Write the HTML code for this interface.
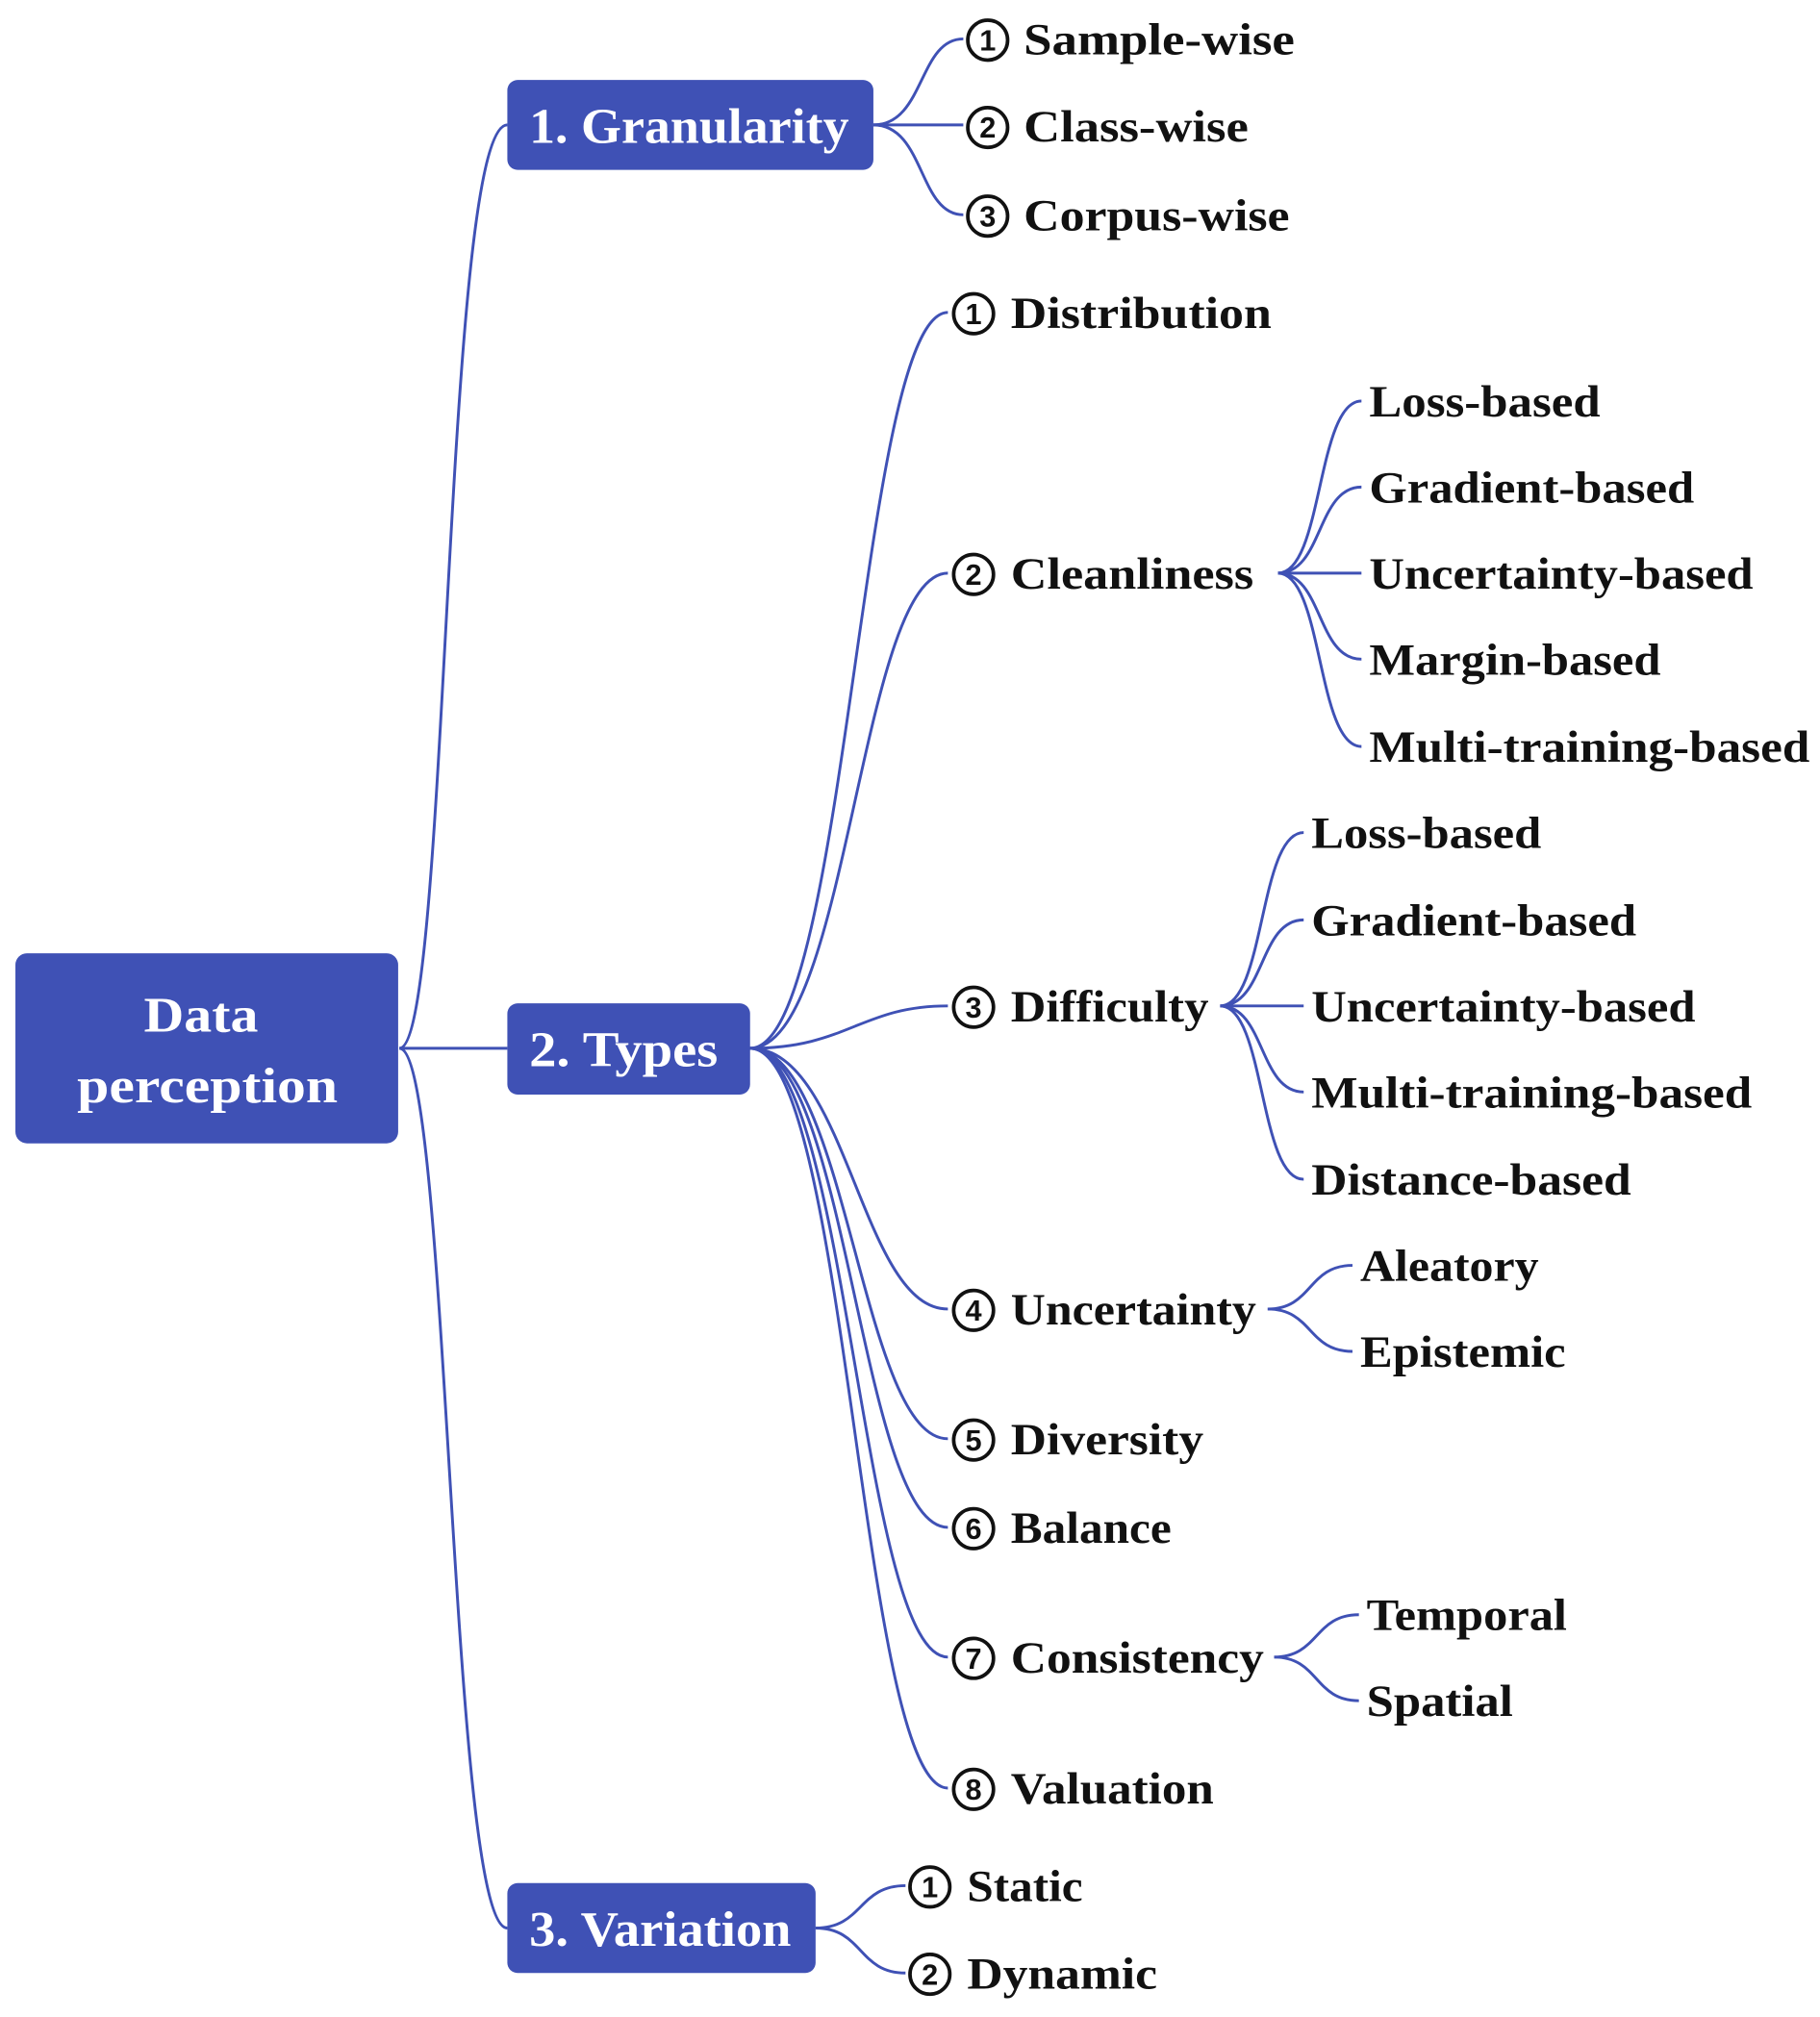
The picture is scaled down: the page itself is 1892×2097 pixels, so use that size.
<!DOCTYPE html>
<html><head><meta charset="utf-8"><style>
html,body{margin:0;padding:0;background:#fff;}
svg{display:block;}
.t{font-family:"Liberation Serif",serif;font-weight:bold;font-size:35px;fill:#111;}
.b{font-family:"Liberation Serif",serif;font-weight:bold;font-size:39px;fill:#fff;}
.n{font-family:"Liberation Sans",sans-serif;font-weight:bold;font-size:23px;fill:#111;}
path{fill:none;stroke:#3f51b5;stroke-width:2.2;}
circle{fill:none;stroke:#111;stroke-width:2.8;}
</style></head><body>
<svg width="1892" height="2097" viewBox="0 0 1417 1570" xmlns="http://www.w3.org/2000/svg">
<path d="M311 816 C350 816 345 97 395 97"/>
<path d="M311 816 L395 816"/>
<path d="M311 816 C350 816 350 1501 395 1501"/>
<path d="M680 97 C720 97 715 30 750 30"/>
<path d="M680 97 L750 97"/>
<path d="M680 97 C720 97 715 167 750 167"/>
<path d="M584 816 C660 816 670 243 738 243"/>
<path d="M584 816 C660 816 670 446 738 446"/>
<path d="M584 816 C660 816 670 783 738 783"/>
<path d="M584 816 C660 816 670 1019 738 1019"/>
<path d="M584 816 C660 816 670 1120 738 1120"/>
<path d="M584 816 C660 816 670 1189 738 1189"/>
<path d="M584 816 C660 816 670 1290 738 1290"/>
<path d="M584 816 C660 816 670 1392 738 1392"/>
<path d="M995 446 C1030 446 1025 312 1060 312"/>
<path d="M995 446 C1030 446 1025 379 1060 379"/>
<path d="M995 446 L1060 446"/>
<path d="M995 446 C1030 446 1025 513 1060 513"/>
<path d="M995 446 C1030 446 1025 581 1060 581"/>
<path d="M950 783 C985 783 980 648 1015 648"/>
<path d="M950 783 C985 783 980 716 1015 716"/>
<path d="M950 783 L1015 783"/>
<path d="M950 783 C985 783 980 850 1015 850"/>
<path d="M950 783 C985 783 980 918 1015 918"/>
<path d="M987 1019 C1022 1019 1018 985 1053 985"/>
<path d="M987 1019 C1022 1019 1018 1052 1053 1052"/>
<path d="M992 1290 C1027 1290 1023 1257 1058 1257"/>
<path d="M992 1290 C1027 1290 1023 1324 1058 1324"/>
<path d="M635 1501 C672 1501 668 1468 705 1468"/>
<path d="M635 1501 C672 1501 668 1536 705 1536"/>

<rect x="12" y="742" width="298" height="148" rx="9" fill="#3f51b5"/>
<text class="b" x="112" y="803" textLength="89" lengthAdjust="spacingAndGlyphs">Data</text>
<text class="b" x="60" y="858" textLength="203" lengthAdjust="spacingAndGlyphs">perception</text>
<rect x="395" y="62" width="285" height="70" rx="8" fill="#3f51b5"/>
<text class="b" x="412" y="111" textLength="249" lengthAdjust="spacingAndGlyphs">1. Granularity</text>
<rect x="395" y="781" width="189" height="71" rx="8" fill="#3f51b5"/>
<text class="b" x="412" y="830" textLength="147" lengthAdjust="spacingAndGlyphs">2. Types</text>
<rect x="395" y="1466" width="240" height="70" rx="8" fill="#3f51b5"/>
<text class="b" x="412" y="1515" textLength="204" lengthAdjust="spacingAndGlyphs">3. Variation</text>

<g>
<circle cx="769" cy="31" r="15.5"/><text class="n" x="769" y="39" text-anchor="middle">1</text><text class="t" x="797" y="42" textLength="211" lengthAdjust="spacingAndGlyphs">Sample-wise</text>
<circle cx="769" cy="99" r="15.5"/><text class="n" x="769" y="107" text-anchor="middle">2</text><text class="t" x="797" y="110" textLength="175" lengthAdjust="spacingAndGlyphs">Class-wise</text>
<circle cx="769" cy="168" r="15.5"/><text class="n" x="769" y="176" text-anchor="middle">3</text><text class="t" x="797" y="179" textLength="207" lengthAdjust="spacingAndGlyphs">Corpus-wise</text>

<circle cx="758" cy="244" r="15.5"/><text class="n" x="758" y="252" text-anchor="middle">1</text><text class="t" x="787" y="255" textLength="203" lengthAdjust="spacingAndGlyphs">Distribution</text>
<circle cx="758" cy="447" r="15.5"/><text class="n" x="758" y="455" text-anchor="middle">2</text><text class="t" x="787" y="458" textLength="189" lengthAdjust="spacingAndGlyphs">Cleanliness</text>
<circle cx="758" cy="784" r="15.5"/><text class="n" x="758" y="792" text-anchor="middle">3</text><text class="t" x="787" y="795" textLength="154" lengthAdjust="spacingAndGlyphs">Difficulty</text>
<circle cx="758" cy="1020" r="15.5"/><text class="n" x="758" y="1028" text-anchor="middle">4</text><text class="t" x="787" y="1031" textLength="191" lengthAdjust="spacingAndGlyphs">Uncertainty</text>
<circle cx="758" cy="1121" r="15.5"/><text class="n" x="758" y="1129" text-anchor="middle">5</text><text class="t" x="787" y="1132" textLength="150" lengthAdjust="spacingAndGlyphs">Diversity</text>
<circle cx="758" cy="1190" r="15.5"/><text class="n" x="758" y="1198" text-anchor="middle">6</text><text class="t" x="787" y="1201" textLength="125" lengthAdjust="spacingAndGlyphs">Balance</text>
<circle cx="758" cy="1291" r="15.5"/><text class="n" x="758" y="1299" text-anchor="middle">7</text><text class="t" x="787" y="1302" textLength="197" lengthAdjust="spacingAndGlyphs">Consistency</text>
<circle cx="758" cy="1393" r="15.5"/><text class="n" x="758" y="1401" text-anchor="middle">8</text><text class="t" x="787" y="1404" textLength="158" lengthAdjust="spacingAndGlyphs">Valuation</text>

<text class="t" x="1066" y="324" textLength="180" lengthAdjust="spacingAndGlyphs">Loss-based</text>
<text class="t" x="1066" y="391" textLength="253" lengthAdjust="spacingAndGlyphs">Gradient-based</text>
<text class="t" x="1066" y="458" textLength="299" lengthAdjust="spacingAndGlyphs">Uncertainty-based</text>
<text class="t" x="1066" y="525" textLength="227" lengthAdjust="spacingAndGlyphs">Margin-based</text>
<text class="t" x="1066" y="593" textLength="343" lengthAdjust="spacingAndGlyphs">Multi-training-based</text>

<text class="t" x="1021" y="660" textLength="179" lengthAdjust="spacingAndGlyphs">Loss-based</text>
<text class="t" x="1021" y="728" textLength="253" lengthAdjust="spacingAndGlyphs">Gradient-based</text>
<text class="t" x="1021" y="795" textLength="299" lengthAdjust="spacingAndGlyphs">Uncertainty-based</text>
<text class="t" x="1021" y="862" textLength="343" lengthAdjust="spacingAndGlyphs">Multi-training-based</text>
<text class="t" x="1021" y="930" textLength="249" lengthAdjust="spacingAndGlyphs">Distance-based</text>

<text class="t" x="1059" y="997" textLength="139" lengthAdjust="spacingAndGlyphs">Aleatory</text>
<text class="t" x="1059" y="1064" textLength="160" lengthAdjust="spacingAndGlyphs">Epistemic</text>

<text class="t" x="1064" y="1269" textLength="156" lengthAdjust="spacingAndGlyphs">Temporal</text>
<text class="t" x="1064" y="1336" textLength="114" lengthAdjust="spacingAndGlyphs">Spatial</text>

<circle cx="724" cy="1469" r="15.5"/><text class="n" x="724" y="1477" text-anchor="middle">1</text><text class="t" x="753" y="1480" textLength="90" lengthAdjust="spacingAndGlyphs">Static</text>
<circle cx="724" cy="1537" r="15.5"/><text class="n" x="724" y="1545" text-anchor="middle">2</text><text class="t" x="753" y="1548" textLength="148" lengthAdjust="spacingAndGlyphs">Dynamic</text>
</g>
</svg>
</body></html>
